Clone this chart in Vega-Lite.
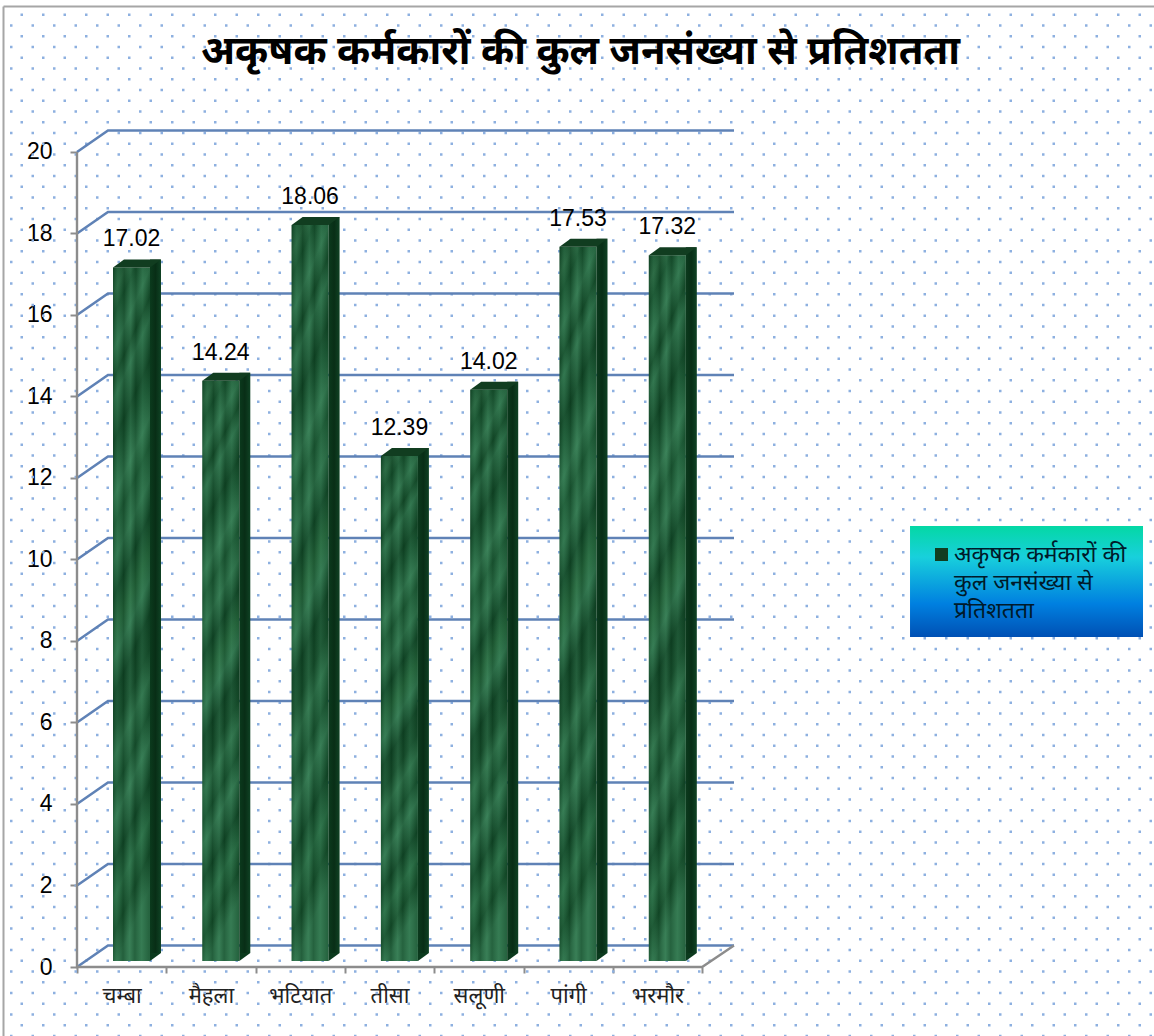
{"$schema":"https://vega.github.io/schema/vega-lite/v6.json","width":657,"height":867,"autosize":"none","padding":{"left":77,"top":100,"right":420,"bottom":69},"background":"#ffffff",
"config":{"view":{"stroke":null},"font":"Noto Sans"},
"title":{"text":"अकृषक  कर्मकारों  की  कुल  जनसंख्या  से  प्रतिशतता","font":"Noto Sans","fontSize":40,"fontWeight":"bold","color":"#000000","anchor":"middle","frame":"group","dx":175,"offset":-66},
"datasets":{
"one":[{}],
"bars":[{"block":"चम्बा","i":0,"share":17.02},{"block":"मैहला","i":1,"share":14.24},{"block":"भटियात","i":2,"share":18.06},{"block":"तीसा","i":3,"share":12.39},{"block":"सलूणी","i":4,"share":14.02},{"block":"पांगी","i":5,"share":17.53},{"block":"भरमौर","i":6,"share":17.32}],
"dotsA":[{"y":23.369},{"y":22.841},{"y":22.314},{"y":21.786},{"y":21.259},{"y":20.731},{"y":20.203},{"y":19.676},{"y":19.148},{"y":18.621},{"y":18.093},{"y":17.565},{"y":17.038},{"y":16.51},{"y":15.983},{"y":15.455},{"y":14.927},{"y":14.4},{"y":13.872},{"y":13.345},{"y":12.817},{"y":12.289},{"y":11.762},{"y":11.234},{"y":10.707},{"y":10.179},{"y":9.651},{"y":9.124},{"y":8.596},{"y":8.069},{"y":7.541},{"y":7.013},{"y":6.486},{"y":5.958},{"y":5.431},{"y":4.903},{"y":4.375},{"y":3.848},{"y":3.32},{"y":2.793},{"y":2.265},{"y":1.737},{"y":1.21},{"y":0.682},{"y":0.155},{"y":-0.373},{"y":-0.901},{"y":-1.428}],
"dotsB":[{"y":23.105},{"y":22.578},{"y":22.05},{"y":21.522},{"y":20.995},{"y":20.467},{"y":19.94},{"y":19.412},{"y":18.884},{"y":18.357},{"y":17.829},{"y":17.302},{"y":16.774},{"y":16.246},{"y":15.719},{"y":15.191},{"y":14.664},{"y":14.136},{"y":13.608},{"y":13.081},{"y":12.553},{"y":12.026},{"y":11.498},{"y":10.97},{"y":10.443},{"y":9.915},{"y":9.388},{"y":8.86},{"y":8.332},{"y":7.805},{"y":7.277},{"y":6.75},{"y":6.222},{"y":5.694},{"y":5.167},{"y":4.639},{"y":4.112},{"y":3.584},{"y":3.056},{"y":2.529},{"y":2.001},{"y":1.474},{"y":0.946},{"y":0.418},{"y":-0.109},{"y":-0.637},{"y":-1.164},{"y":-1.692}],
"grid":[{"l":0,"x":0,"y":0},{"l":0,"x":0.347,"y":0.528},{"l":0,"x":7.357,"y":0.528},{"l":2,"x":0,"y":2},{"l":2,"x":0.347,"y":2.528},{"l":2,"x":7.357,"y":2.528},{"l":4,"x":0,"y":4},{"l":4,"x":0.347,"y":4.528},{"l":4,"x":7.357,"y":4.528},{"l":6,"x":0,"y":6},{"l":6,"x":0.347,"y":6.528},{"l":6,"x":7.357,"y":6.528},{"l":8,"x":0,"y":8},{"l":8,"x":0.347,"y":8.528},{"l":8,"x":7.357,"y":8.528},{"l":10,"x":0,"y":10},{"l":10,"x":0.347,"y":10.528},{"l":10,"x":7.357,"y":10.528},{"l":12,"x":0,"y":12},{"l":12,"x":0.347,"y":12.528},{"l":12,"x":7.357,"y":12.528},{"l":14,"x":0,"y":14},{"l":14,"x":0.347,"y":14.528},{"l":14,"x":7.357,"y":14.528},{"l":16,"x":0,"y":16},{"l":16,"x":0.347,"y":16.528},{"l":16,"x":7.357,"y":16.528},{"l":18,"x":0,"y":18},{"l":18,"x":0.347,"y":18.528},{"l":18,"x":7.357,"y":18.528},{"l":20,"x":0,"y":20},{"l":20,"x":0.347,"y":20.528},{"l":20,"x":7.357,"y":20.528}],
"frameAxes":[{"o":0,"x":0,"y":20},{"o":1,"x":0,"y":0},{"o":2,"x":7,"y":0},{"o":3,"x":7.357,"y":0.528}]
},
"layer":[
{"data":{"name":"dotsA"},"mark":{"type":"rule","stroke":"#8db0e0","strokeWidth":2.5,"strokeDash":[2.5,19],"strokeDashOffset":4.5},
"encoding":{"x":{"datum":-0.823,"type":"quantitative","scale":{"domain":[0,7.357],"nice":false,"zero":false,"padding":0},"axis":{"values":[0,1,2,3,4,5,6,7],"title":null,"grid":false,"domain":false,"tickColor":"#8c8c8c","tickWidth":2,"tickSize":6,"labelExpr":"['चम्बा','मैहला','भटियात','तीसा','सलूणी','पांगी','भरमौर',''][datum.value]","labelOffset":44.6,"labelFont":"Noto Sans","labelFontSize":22,"labelColor":"#222222","labelPadding":12,"labelOverlap":false,"labelFlush":false,"labelBound":false,"labelAngle":0}},"x2":{"datum":12.1},
"y":{"field":"y","type":"quantitative","scale":{"domain":[0,21.276],"nice":false,"zero":false},"axis":{"values":[0,2,4,6,8,10,12,14,16,18,20],"title":null,"grid":false,"domain":false,"tickColor":"#8c8c8c","tickWidth":2,"tickSize":7,"labelFont":"Liberation Sans","labelFontSize":23,"labelColor":"#000000","labelPadding":18,"labelFlush":false,"labelBound":false,"labelOverlap":false,"labelBaseline":"middle"}}}},
{"data":{"name":"dotsB"},"mark":{"type":"rule","stroke":"#8db0e0","strokeWidth":2.5,"strokeDash":[2.5,19],"strokeDashOffset":15},
"encoding":{"x":{"datum":-0.823,"type":"quantitative"},"x2":{"datum":12.1},"y":{"field":"y","type":"quantitative"}}},
{"data":{"name":"one"},"mark":{"type":"rule","stroke":"#a6a6a6","strokeWidth":2},"encoding":{"x":{"datum":-0.823,"type":"quantitative"},"y":{"datum":23.57,"type":"quantitative"},"y2":{"datum":-1.71}}},
{"data":{"name":"one"},"mark":{"type":"rule","stroke":"#a6a6a6","strokeWidth":2},"encoding":{"x":{"datum":-0.823,"type":"quantitative"},"x2":{"datum":12.1},"y":{"datum":23.57,"type":"quantitative"}}},
{"data":{"name":"grid"},"mark":{"type":"line","stroke":"#5f82b6","strokeWidth":2.6},"encoding":{"x":{"field":"x","type":"quantitative"},"y":{"field":"y","type":"quantitative"},"detail":{"field":"l"},"order":{"field":"x"}}},
{"data":{"name":"frameAxes"},"mark":{"type":"line","stroke":"#8c8c8c","strokeWidth":2.4},"encoding":{"x":{"field":"x","type":"quantitative"},"y":{"field":"y","type":"quantitative"},"order":{"field":"o"}}},
{"data":{"name":"bars"},"mark":{"type":"bar","orient":"vertical","width":37,"xOffset":54.5,"yOffset":-6,"y2Offset":-6,"fill":{"gradient":"linear","x1":0,"y1":0,"x2":0.12,"y2":1,"stops":[{"offset":0,"color":"#0f4424"},{"offset":0.04,"color":"#245f3a"},{"offset":0.07,"color":"#134b29"},{"offset":0.12,"color":"#2d7049"},{"offset":0.16,"color":"#124827"},{"offset":0.19,"color":"#2a6c46"},{"offset":0.25,"color":"#0e4122"},{"offset":0.28,"color":"#185330"},{"offset":0.33,"color":"#31764e"},{"offset":0.37,"color":"#1a5632"},{"offset":0.42,"color":"#2c6f48"},{"offset":0.47,"color":"#0f4324"},{"offset":0.52,"color":"#236339"},{"offset":0.56,"color":"#2f734c"},{"offset":0.61,"color":"#0e4022"},{"offset":0.66,"color":"#144a29"},{"offset":0.7,"color":"#2c6e47"},{"offset":0.75,"color":"#164f2d"},{"offset":0.79,"color":"#30744d"},{"offset":0.85,"color":"#0f4324"},{"offset":0.9,"color":"#276a42"},{"offset":0.95,"color":"#134a28"},{"offset":1,"color":"#2d7049"}]}},"encoding":{"x":{"field":"i","type":"quantitative"},"y":{"field":"share","type":"quantitative"},"y2":{"datum":0}}},
{"data":{"name":"bars"},"mark":{"type":"bar","orient":"vertical","width":37,"xOffset":54.5,"yOffset":-6,"y2Offset":-6,"fill":{"gradient":"linear","x1":0,"y1":0,"x2":1,"y2":0.03,"stops":[{"offset":0,"color":"rgba(10,50,25,0.3)"},{"offset":0.13,"color":"rgba(90,170,125,0.18)"},{"offset":0.3,"color":"rgba(10,50,25,0.28)"},{"offset":0.48,"color":"rgba(100,180,135,0.22)"},{"offset":0.62,"color":"rgba(10,50,25,0.22)"},{"offset":0.8,"color":"rgba(90,170,125,0.2)"},{"offset":1,"color":"rgba(10,50,25,0.2)"}]}},"encoding":{"x":{"field":"i","type":"quantitative"},"y":{"field":"share","type":"quantitative"},"y2":{"datum":0}}},
{"data":{"name":"bars"},"mark":{"type":"bar","orient":"vertical","width":11,"xOffset":78.5,"yOffset":-14,"y2Offset":-14,"fill":{"gradient":"linear","x1":0,"y1":0,"x2":1,"y2":0,"stops":[{"offset":0,"color":"#0b3a1d"},{"offset":0.5,"color":"#082e16"},{"offset":1,"color":"#0f4224"}]}},"encoding":{"x":{"field":"i","type":"quantitative"},"y":{"field":"share","type":"quantitative"},"y2":{"datum":0}}},
{"data":{"name":"bars"},"mark":{"type":"point","filled":true,"opacity":1,"size":4,"strokeWidth":0,"shape":"M0 0 L11 -8 L0 -8 Z","fill":"#0b3a1d","xOffset":73,"yOffset":-6},"encoding":{"x":{"field":"i","type":"quantitative"},"y":{"datum":0,"type":"quantitative"}}},
{"data":{"name":"bars"},"transform":[{"calculate":"'अकृषक कर्मकारों की कुल जनसंख्या से प्रतिशतता'","as":"series"}],"mark":{"type":"point","filled":true,"opacity":1,"size":4,"strokeWidth":0,"shape":"M0 0 L11 -8 L48 -8 L37 0 Z","xOffset":36,"yOffset":-6},"encoding":{"x":{"field":"i","type":"quantitative"},"y":{"field":"share","type":"quantitative"},"fill":{"field":"series","type":"nominal","scale":{"range":["#113d20"]},"legend":{"orient":"none","legendX":853,"legendY":443,"title":null,"padding":0,"symbolType":"square","symbolSize":170,"symbolStrokeWidth":0,"symbolOpacity":1,"labelFont":"Noto Sans","labelFontSize":23,"labelColor":"#001a2a","labelLimit":400,"labelOffset":1,"labelExpr":"['अकृषक  कर्मकारों  की','कुल  जनसंख्या  से','प्रतिशतता']","encode":{"labels":{"update":{"lineHeight":{"value":28}}}}}}}},
{"data":{"name":"bars"},"mark":{"type":"text","font":"Liberation Sans","fontSize":23,"color":"#000000","xOffset":54.5,"yOffset":-34,"baseline":"middle"},"encoding":{"x":{"field":"i","type":"quantitative"},"y":{"field":"share","type":"quantitative"},"text":{"field":"share","type":"quantitative","format":".2f"}}},
{"data":{"name":"one"},"mark":{"type":"rect","fill":{"gradient":"linear","x1":0,"y1":0,"x2":0,"y2":1,"stops":[{"offset":0,"color":"#04d8a4"},{"offset":0.28,"color":"#18d0dc"},{"offset":0.7,"color":"#0080e0"},{"offset":1,"color":"#0050b4"}]}},"encoding":{"x":{"datum":9.328,"type":"quantitative"},"x2":{"datum":11.937},"y":{"datum":10.822,"type":"quantitative"},"y2":{"datum":8.098}}}
]}
